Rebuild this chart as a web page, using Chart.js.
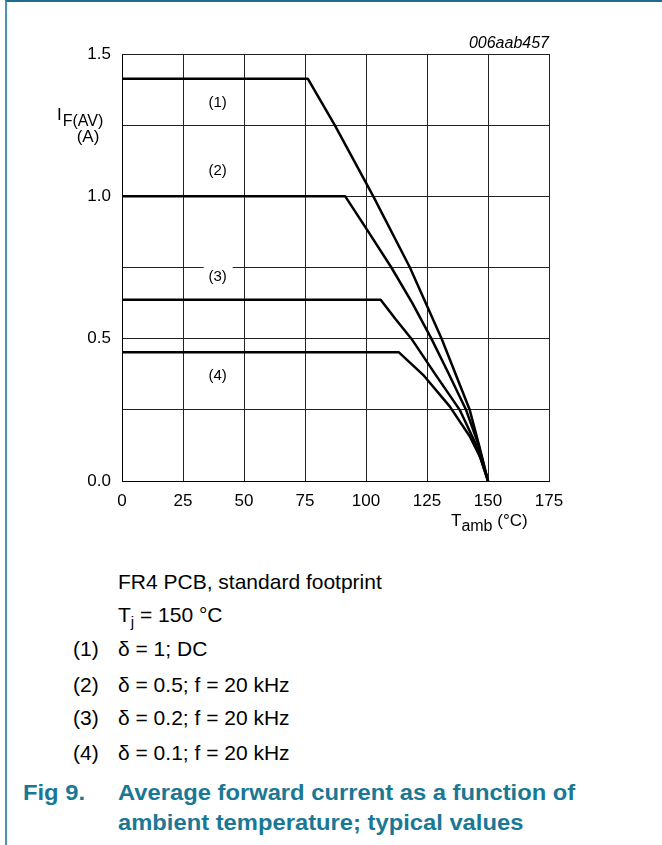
<!DOCTYPE html>
<html>
<head>
<meta charset="utf-8">
<script src="https://cdn.jsdelivr.net/npm/chart.js@4/dist/chart.umd.min.js"></script>
<style>
  body { margin: 0; background: #fff; font-family: "Liberation Sans", Arial, sans-serif; }
  #page { position: relative; width: 662px; height: 845px; overflow: hidden; }
  #frame { position: absolute; left: 5px; top: 0; width: 700px; height: 900px;
           border-left: 2px solid #4a94b0; border-top: 2px solid #1f6e8c; }
  #wrap { position: absolute; left: 0; top: 0; width: 662px; height: 540px; }
  .t { position: absolute; font-size: 21px; line-height: 24px; color: #000; white-space: nowrap; }
  .b { font-weight: bold; font-size: 22px; color: #1a7894; transform: scaleX(1.08); transform-origin: 0 50%; }
  sub { font-size: 15px; vertical-align: -5px; line-height: 0; }
</style>
</head>
<body>
<div id="page">
  <div id="frame"></div>
  <div id="wrap"><canvas id="chart"></canvas></div>

  <div class="t" style="left:118px; top:570px;">FR4 PCB, standard footprint</div>
  <div class="t" style="left:118px; top:603px;">T<sub>j</sub> = 150 °C</div>
  <div class="t" style="left:73px; top:637px;">(1)</div>
  <div class="t" style="left:118px; top:637px;">δ = 1; DC</div>
  <div class="t" style="left:73px; top:673px;">(2)</div>
  <div class="t" style="left:118px; top:673px;">δ = 0.5; f = 20 kHz</div>
  <div class="t" style="left:73px; top:706px;">(3)</div>
  <div class="t" style="left:118px; top:706px;">δ = 0.2; f = 20 kHz</div>
  <div class="t" style="left:73px; top:741px;">(4)</div>
  <div class="t" style="left:118px; top:741px;">δ = 0.1; f = 20 kHz</div>
  <div class="t b" style="left:23px; top:781px;">Fig 9.</div>
  <div class="t b" style="left:118px; top:781px;">Average forward current as a function of</div>
  <div class="t b" style="left:118px; top:811px;">ambient temperature; typical values</div>
</div>

<script>
// curve (1) delta = 1; DC
const temp1 = [0, 76.2, 87.2, 103, 118, 131, 142.5, 146.5, 150];
const curr1 = [1.413, 1.413, 1.25, 1.0, 0.75, 0.5, 0.25, 0.12, 0];
// curve (2) delta = 0.5
const temp2 = [0, 91.5, 101, 110.4, 119, 126.8, 134, 141, 146, 150];
const curr2 = [1.0, 1.0, 0.875, 0.75, 0.625, 0.5, 0.375, 0.25, 0.13, 0];
// curve (3) delta = 0.2
const temp3 = [0, 106, 112, 118.6, 128, 138.4, 145, 150];
const curr3 = [0.637, 0.637, 0.57, 0.5, 0.38, 0.25, 0.13, 0];
// curve (4) delta = 0.1
const temp4 = [0, 113.5, 123.4, 134.3, 142.5, 147, 150];
const curr4 = [0.452, 0.452, 0.373, 0.262, 0.157, 0.08, 0];

// curve labels inside the plot
const curveNames = ["(1)", "(2)", "(3)", "(4)"];
const nameTemp = [39.2, 39.2, 39.2, 39.2];
const nameCurr = [1.329, 1.088, 0.718, 0.371];

const FONT = '"Liberation Sans", Arial, sans-serif';

const toPoints = (xs, ys) => xs.map((x, i) => ({ x: x, y: ys[i] }));

const curveSet = (xs, ys) => ({
  data: toPoints(xs, ys),
  borderColor: "#000",
  borderWidth: 2.5,
  pointRadius: 0,
  tension: 0,
  fill: false,
  borderJoinStyle: "round",
});

const textPlugin = {
  id: "texts",
  afterDatasetsDraw(chart) {
    const ctx = chart.ctx;
    const xs = chart.scales.x;
    const ys = chart.scales.y;
    ctx.save();
    // curve names
    ctx.font = "15px " + FONT;
    ctx.textAlign = "center";
    ctx.textBaseline = "middle";
    for (let i = 0; i < curveNames.length; i++) {
      const px = xs.getPixelForValue(nameTemp[i]);
      const py = ys.getPixelForValue(nameCurr[i]);
      if (i === 2) {
        ctx.fillStyle = "#fff";
        ctx.fillRect(px - 14, py - 14, 29, 26);
      }
      ctx.fillStyle = "#000";
      ctx.fillText(curveNames[i], px, py);
    }
    ctx.restore();
  },
  afterDraw(chart) {
    const ctx = chart.ctx;
    const a = chart.chartArea;
    ctx.save();
    ctx.fillStyle = "#000";
    ctx.textBaseline = "alphabetic";
    ctx.textAlign = "left";

    // y axis title
    let x = a.left - 65;
    ctx.font = "17px " + FONT;
    ctx.fillText("I", x, 120);
    x += ctx.measureText("I").width + 1;
    ctx.font = "16px " + FONT;
    ctx.fillText("F(AV)", x, 126);
    ctx.font = "17px " + FONT;
    ctx.textAlign = "center";
    ctx.fillText("(A)", a.left - 34, 142);

    // x axis title
    ctx.textAlign = "left";
    x = 451;
    ctx.fillText("T", x, 526);
    x += ctx.measureText("T").width;
    ctx.font = "16px " + FONT;
    ctx.fillText("amb", x, 531);
    x += ctx.measureText("amb").width;
    ctx.font = "17px " + FONT;
    ctx.fillText(" (°C)", x, 526);

    // figure code
    ctx.font = "italic 16px " + FONT;
    ctx.textAlign = "right";
    ctx.fillText("006aab457", a.right, 48);
    ctx.restore();
  },
};

new Chart(document.getElementById("chart"), {
  type: "line",
  data: {
    datasets: [
      curveSet(temp1, curr1),
      curveSet(temp2, curr2),
      curveSet(temp3, curr3),
      curveSet(temp4, curr4),
    ],
  },
  options: {
    responsive: true,
    maintainAspectRatio: false,
    animation: false,
    layout: { padding: { left: 0, right: 113, top: 54, bottom: 0 } },
    plugins: { legend: { display: false }, tooltip: { enabled: false } },
    scales: {
      x: {
        type: "linear",
        min: 0,
        max: 175,
        afterFit: (s) => { s.height = 59; },
        ticks: {
          stepSize: 25,
          color: "#000",
          padding: 10,
          maxRotation: 0,
          font: { family: FONT, size: 17 },
        },
        grid: { color: "#222", lineWidth: 1, drawTicks: false },
        border: { color: "#000", width: 1 },
      },
      y: {
        min: 0,
        max: 1.5,
        afterFit: (s) => { s.width = 122; },
        ticks: {
          stepSize: 0.25,
          color: "#000",
          padding: 11,
          font: { family: FONT, size: 17 },
          callback: (v) => (Math.abs(v * 2 - Math.round(v * 2)) < 1e-6 ? v.toFixed(1) : ""),
        },
        grid: { color: "#222", lineWidth: 1, drawTicks: false },
        border: { color: "#000", width: 1 },
      },
    },
  },
  plugins: [textPlugin],
});
</script>
</body>
</html>
